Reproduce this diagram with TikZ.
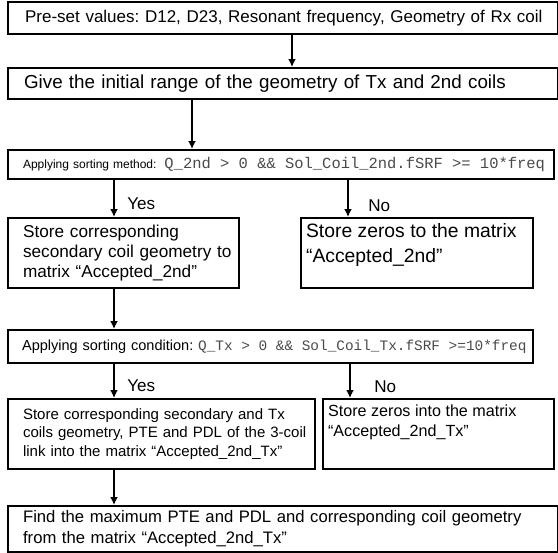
\documentclass[tikz,border=0pt]{standalone}
\usepackage{fontspec}
\setmainfont{Liberation Sans}
\setmonofont{Liberation Mono}
\usepackage{xcolor}
\usetikzlibrary{arrows.meta}
\definecolor{codegray}{HTML}{4A4A4A}
\newcommand{\fs}[2]{\fontsize{#1pt}{#2pt}\selectfont}
\newcommand{\code}[1]{{\ttfamily\spaceskip=0.6em\relax\color{codegray}#1}}
\frenchspacing

\begin{document}
\begin{tikzpicture}[
          x=0.75pt, y=-0.75pt,
          stepbox/.style={draw, line width=1.6pt, anchor=north west, align=left, inner ysep=0pt},
          arr/.style={-{Latex[length=6pt,width=6pt]}, line width=1.3pt},
          lbl/.style={font=\fs{12.8}{14}, inner sep=0pt, anchor=west}
      ]
        \useasboundingbox (0,0) rectangle (558,553);
        % boxes, top to bottom
        \node[stepbox, minimum width=412.5pt, minimum height=24pt, inner xsep=12.75pt,
              text width=387pt, font=\fs{12.75}{15}] (pre) at (7,1)
              {\mbox{Pre-set values: D12, D23, Resonant frequency, Geometry of Rx coil}};
        \node[stepbox, minimum width=412.5pt, minimum height=23.25pt, inner xsep=12pt,
              text width=388.5pt, font=\fs{14.1}{17}] (range) at (7,67)
              {\mbox{Give the initial range of the geometry of Tx and 2nd coils}};
        \node[stepbox, minimum width=409.5pt, minimum height=21.75pt, inner xsep=11.25pt,
              text width=387pt, font=\fs{9}{11}] (sort2nd) at (7,149)
              {\mbox{Applying sorting method:\hspace{6pt}\fs{11.6}{14}\code{Q\_2nd > 0 \&\& Sol\_Coil\_2nd.fSRF >= 10*freq}}};
        \node[stepbox, minimum width=173.25pt, minimum height=52.5pt, inner xsep=11.25pt,
              text width=150.75pt, font=\fs{12.9}{14.8}] (keep2nd) at (7,217)
              {Store corresponding\\\mbox{secondary coil geometry to}\\\mbox{matrix “Accepted\_2nd”}};
        \node[stepbox, minimum width=174pt, minimum height=52.5pt, inner xsep=3.75pt, inner ysep=4pt,
              font=\fs{14.5}{18.75}] (zero2nd) at (300,217)
              {\parbox[c][44.5pt][t]{166.5pt}{Store zeros to the matrix\\“Accepted\_2nd”}};
        \node[stepbox, minimum width=393.75pt, minimum height=24.75pt, inner xsep=10.5pt,
              text width=372.75pt, font=\fs{10.9}{13}] (sortTx) at (7,329)
              {\mbox{Applying sorting condition: \fs{10.8}{13}\code{Q\_Tx > 0 \&\& Sol\_Coil\_Tx.fSRF >=10*freq}}};
        \node[stepbox, minimum width=230.25pt, minimum height=52.5pt, inner xsep=11.25pt,
              text width=207.75pt, font=\fs{11.25}{13.7}] (keepTx) at (7,398)
              {\mbox{Store corresponding secondary and Tx}\\\mbox{coils geometry, PTE and PDL of the 3-coil}\\\mbox{link into the matrix “Accepted\_2nd\_Tx”}};
        \node[stepbox, minimum width=173.25pt, minimum height=52.5pt, inner xsep=3.75pt, inner ysep=4pt,
              font=\fs{12.1}{15}] (zeroTx) at (322,398)
              {\parbox[c][44.5pt][t]{165.75pt}{Store zeros into the matrix\\“Accepted\_2nd\_Tx”}};
        \node[stepbox, minimum width=412.5pt, minimum height=34.5pt, inner xsep=11.25pt,
              text width=390pt, font=\fs{12.5}{15.75}] (best) at (7,505)
              {Find the maximum PTE and PDL and corresponding coil geometry\\from the matrix “Accepted\_2nd\_Tx”};
        % branch labels
        \node[lbl] (yes2nd) at (127,204) {Yes};
        \node[lbl] (no2nd) at (368,206) {No};
        \node[lbl] (yesTx) at (127,386) {Yes};
        \node[lbl] (noTx) at (374,387) {No};
        % connectors
        \coordinate (xa) at (292,0);
        \coordinate (xb) at (192,0);
        \coordinate (xc) at (114,0);
        \coordinate (xd) at (348,0);
        \coordinate (xe) at (350,0);
        \draw[arr] (pre.south -| xa) -- (range.north -| xa);
        \draw[arr] (range.south -| xb) -- (sort2nd.north -| xb);
        \draw[arr] (sort2nd.south -| xc) -- (keep2nd.north -| xc);
        \draw[arr] (sort2nd.south -| xd) -- (zero2nd.north -| xd);
        \draw[arr] (keep2nd.south -| xc) -- (sortTx.north -| xc);
        \draw[arr, line width=2.2pt] (sortTx.south -| xc) -- (keepTx.north -| xc);
        \draw[arr] (sortTx.south -| xe) -- (zeroTx.north -| xe);
        \draw[arr] (keepTx.south -| xc) -- (best.north -| xc);
      \end{tikzpicture}
\end{document}
